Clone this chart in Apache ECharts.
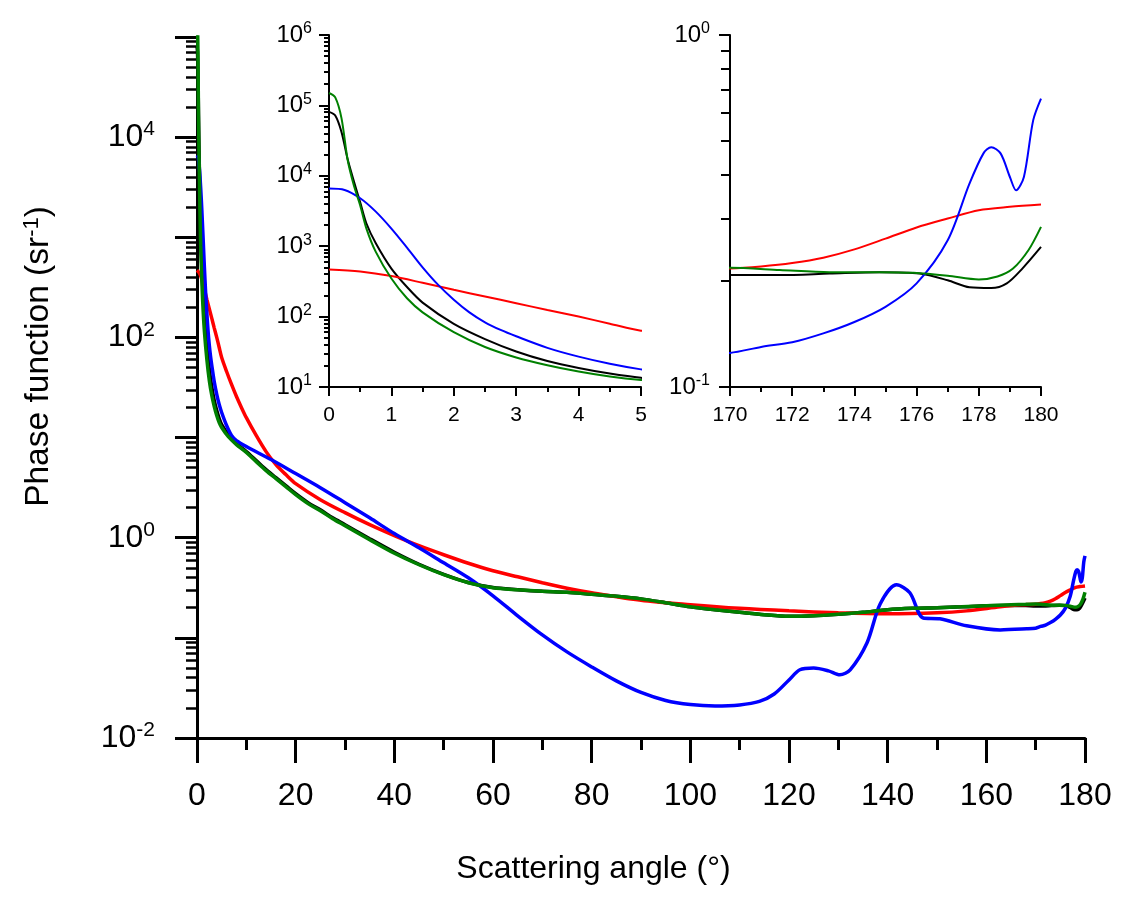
<!DOCTYPE html>
<html><head><meta charset="utf-8">
<script src="https://cdn.jsdelivr.net/npm/echarts@6/dist/echarts.min.js"></script>
<style>html,body{margin:0;padding:0;background:#fff}#c{width:1131px;height:905px}</style>
</head><body><div id="c"></div>
<script>
// ---- data: [scattering angle (deg), phase function (sr^-1)] ----
const blackCurve = [[0,81000],[0.1,72000],[0.2,42000],[0.3,17000],[0.4,8300],[0.5,4200],[0.6,2100],[0.75,1100],[1,480],[1.25,263],[1.5,158],[2,79],[2.5,48],[3,32],[3.5,23.4],[4,18.6],[4.5,15.5],[5,13.5],[6.35,10.7],[8,8.7],[10,7.25],[12,5.9],[14,4.79],[16,3.98],[18,3.31],[20,2.75],[22.5,2.24],[25,1.9],[27.5,1.58],[30,1.35],[35,0.977],[40,0.716],[45,0.543],[50,0.431],[55,0.357],[60,0.318],[65,0.303],[70,0.292],[75,0.285],[80,0.272],[85,0.26],[90,0.245],[95,0.224],[100,0.204],[105,0.191],[110,0.18],[115,0.17],[120,0.164],[125,0.166],[130,0.172],[135,0.18],[140,0.191],[145,0.197],[150,0.20],[155,0.204],[160,0.209],[165,0.211],[168,0.21],[170,0.208],[171.6,0.208],[173.2,0.21],[174.8,0.212],[176.1,0.21],[177,0.201],[177.7,0.192],[178.4,0.191],[178.9,0.197],[179.4,0.217],[180,0.25]];
const redCurve = [[0,468],[0.5,437],[1,376],[1.5,302],[2,240],[2.5,193],[3,155],[3.5,124],[4,100],[4.5,79.4],[5,63.1],[6,45.7],[7,33.9],[8,25.7],[9,20],[10,15.8],[12,10.5],[14,7.24],[16,5.37],[18,4.27],[20,3.47],[25,2.4],[30,1.78],[35,1.35],[40,1.05],[45,0.832],[50,0.676],[55,0.556],[60,0.468],[65,0.407],[70,0.355],[75,0.313],[80,0.282],[90,0.237],[100,0.214],[110,0.197],[120,0.186],[130,0.178],[140,0.174],[150,0.178],[156,0.186],[162.8,0.204],[167,0.214],[170,0.217],[171,0.22],[172,0.225],[173,0.233],[174,0.246],[175,0.264],[176,0.284],[177,0.301],[178,0.318],[179,0.325],[180,0.33]];
const blueCurve = [[0,6600],[0.25,6300],[0.5,4800],[0.75,3100],[1,1780],[1.25,955],[1.5,501],[1.75,282],[2,174],[2.25,115],[2.5,83],[2.75,64.6],[3,52.5],[3.5,36],[4,27],[4.5,21.4],[5,17.8],[6,13.2],[7,10.5],[8,9.33],[10,8.13],[15,6.03],[20,4.37],[25,3.16],[30,2.24],[35,1.58],[40,1.1],[45,0.794],[50,0.562],[55,0.398],[60,0.263],[65,0.166],[70,0.107],[75,0.0724],[80,0.0513],[85,0.0372],[90,0.0285],[95,0.0237],[100,0.0216],[105,0.0209],[110,0.0214],[114,0.0232],[117,0.0275],[120,0.038],[122.2,0.048],[125,0.05],[128,0.0468],[130.3,0.0427],[132.4,0.048],[135.8,0.089],[138.5,0.219],[141.8,0.339],[144.5,0.282],[147.2,0.158],[150.6,0.155],[156,0.132],[162.8,0.12],[168.2,0.123],[170,0.125],[171,0.13],[172,0.134],[173,0.142],[174,0.153],[175,0.169],[176,0.197],[177,0.261],[177.7,0.378],[178.15,0.461],[178.4,0.48],[178.7,0.461],[179,0.395],[179.2,0.362],[179.45,0.395],[179.75,0.573],[180,0.66]];
const greenCurve = [[0,150000],[0.1,130000],[0.2,66000],[0.3,16600],[0.4,7200],[0.5,3800],[0.6,1780],[0.75,830],[1,347],[1.25,182],[1.5,115],[2,60],[2.5,37],[3,26.3],[3.5,20.4],[4,16.6],[4.5,14.1],[5,12.6],[6.35,10.2],[8,8.5],[10,7.1],[12,5.75],[14,4.68],[16,3.89],[18,3.24],[20,2.69],[22.5,2.19],[25,1.86],[27.5,1.55],[30,1.32],[35,0.955],[40,0.70],[45,0.537],[50,0.427],[55,0.355],[60,0.316],[65,0.302],[70,0.292],[75,0.285],[80,0.272],[85,0.26],[90,0.245],[95,0.224],[100,0.204],[105,0.191],[110,0.18],[115,0.17],[120,0.164],[125,0.166],[130,0.172],[135,0.18],[140,0.191],[145,0.197],[150,0.20],[155,0.204],[160,0.209],[165,0.214],[168,0.216],[170,0.218],[171.6,0.215],[173.2,0.212],[174.8,0.212],[175.9,0.211],[177,0.207],[178,0.202],[178.6,0.206],[179.1,0.217],[179.6,0.245],[180,0.285]];

// ---- axis ranges / ticks ----
const mainX = [0, 180, 20];
const mainY = [0.01, 1e5];
const inset1X = [0, 5, 1];
const inset1Y = [10, 1e6];
const inset2X = [170, 180, 2];
const inset2Y = [0.1, 1];
const minorMultipliers = [2, 3, 4, 5, 6, 7, 8, 9];

const FONT = 'Liberation Sans, Arial, Helvetica, sans-serif';
const curves = [
  {data: blackCurve, color: '#000000'},
  {data: redCurve, color: '#ff0000'},
  {data: blueCurve, color: '#0000ff'},
  {data: greenCurve, color: '#008000'}
];

function minorLogPositions(range) {
  const out = [];
  const lo = Math.round(Math.log10(range[0])), hi = Math.round(Math.log10(range[1]));
  for (let d = lo; d < hi; d++) minorMultipliers.forEach(m => out.push(Math.log10(m) + d));
  return out;
}
function powFormatter(show) {
  return v => {
    const e = Math.round(Math.log10(v));
    return show(e) ? '{b|10}{s|' + e + '}' : '';
  };
}
function powRich(big, small, lhBig, lhSmall) {
  return {
    b: {fontSize: big, fontFamily: FONT, color: '#000', lineHeight: lhBig},
    s: {fontSize: small, fontFamily: FONT, color: '#000', lineHeight: lhSmall, verticalAlign: 'top'}
  };
}
function xAxisDef(grid, r, o) {
  return {
    type: 'value', gridIndex: grid, min: r[0], max: r[1], interval: r[2], position: 'bottom',
    splitLine: {show: false},
    axisLine: {show: true, onZero: false, lineStyle: {color: '#000', width: o.lw}},
    axisTick: {show: true, length: o.major, lineStyle: {color: '#000', width: o.lw}},
    minorTick: {show: true, splitNumber: 2, length: o.minor, lineStyle: {color: '#000', width: o.lw}},
    axisLabel: {fontSize: o.fs, fontFamily: FONT, color: '#000', margin: o.margin},
    name: o.name || '', nameLocation: 'middle', nameGap: o.nameGap || 0,
    nameTextStyle: {fontSize: 32, fontFamily: FONT, color: '#000', padding: [0, 95, 0, 0]}
  };
}
function yLogDef(grid, r, o) {
  return {
    type: 'log', logBase: 10, gridIndex: grid, min: r[0], max: r[1], position: 'left',
    splitLine: {show: false},
    axisLine: {show: true, onZero: false, lineStyle: {color: '#000', width: o.lw}},
    axisTick: {show: true, length: o.major, lineStyle: {color: '#000', width: o.lw}},
    axisLabel: {margin: o.margin, formatter: powFormatter(o.show), rich: powRich(o.big, o.small, o.lhBig, o.lhSmall)},
    name: o.name || '', nameLocation: 'middle', nameGap: o.nameGap || 0, nameRotate: 90,
    nameTextStyle: {padding: [0, 0, 0, 62], rich: {
      t: {fontSize: 33.5, fontFamily: FONT, color: '#000', lineHeight: 36},
      s: {fontSize: 22, fontFamily: FONT, color: '#000', lineHeight: 14, verticalAlign: 'top'}
    }}
  };
}
function yMinorDef(grid, r, o) {
  return {
    type: 'value', gridIndex: grid, min: Math.log10(r[0]), max: Math.log10(r[1]), position: 'left',
    splitLine: {show: false}, axisLine: {show: false},
    axisLabel: {show: false},
    axisTick: {show: true, customValues: minorLogPositions(r), length: o.minor, lineStyle: {color: '#000', width: o.lw}}
  };
}
function seriesFor(xi, yi, width) {
  return curves.map(c => ({
    type: 'line', xAxisIndex: xi, yAxisIndex: yi, data: c.data,
    showSymbol: false, smooth: 0.3, clip: true, silent: true,
    lineStyle: {color: c.color, width: width}
  }));
}

const chart = echarts.init(document.getElementById('c'), null, {renderer: 'canvas'});
chart.setOption({
  animation: false,
  backgroundColor: '#fff',
  grid: [
    {left: 197, top: 37, width: 888, height: 701},
    {left: 329, top: 35, width: 312, height: 352},
    {left: 730, top: 35, width: 311, height: 352}
  ],
  xAxis: [
    xAxisDef(0, mainX, {lw: 3, major: 25, minor: 12, fs: 32, margin: 42, name: 'Scattering angle (°)', nameGap: 115}),
    xAxisDef(1, inset1X, {lw: 2, major: 9, minor: 5, fs: 21, margin: 18}),
    xAxisDef(2, inset2X, {lw: 2, major: 9, minor: 5, fs: 21, margin: 18})
  ],
  yAxis: [
    yLogDef(0, mainY, {lw: 3, major: 22, margin: 42, show: e => e % 2 === 0, big: 32, small: 21, lhBig: 36, lhSmall: 14,
      name: '{t|Phase function (sr}{s|-1}{t|)}', nameGap: 140}),
    yLogDef(1, inset1Y, {lw: 2, major: 10, margin: 17, show: () => true, big: 24, small: 16, lhBig: 28, lhSmall: 10}),
    yLogDef(2, inset2Y, {lw: 2, major: 11, margin: 20, show: () => true, big: 24, small: 16, lhBig: 28, lhSmall: 10}),
    yMinorDef(0, mainY, {minor: 11, lw: 2.5}),
    yMinorDef(1, inset1Y, {minor: 5, lw: 2}),
    yMinorDef(2, inset2Y, {minor: 9, lw: 2})
  ],
  series: [].concat(seriesFor(0, 0, 3.5), seriesFor(1, 1, 2), seriesFor(2, 2, 2))
});
</script></body></html>
